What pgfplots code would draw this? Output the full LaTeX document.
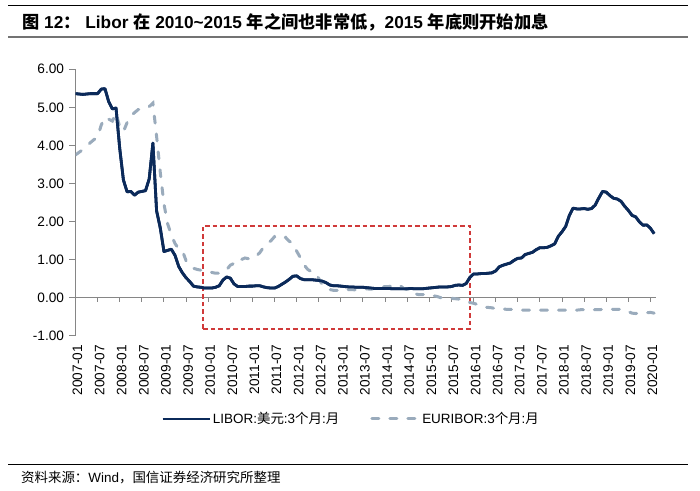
\documentclass[border=0pt]{standalone}
\usepackage{fontspec}
\setmainfont{Liberation Sans}
\newfontfamily\cjk{Noto Sans CJK SC}
\usepackage{pgfplots}
\usepackage{pgfplotstable}
\pgfplotsset{compat=1.18}
\definecolor{libor}{HTML}{0B2A5A}
\definecolor{euribor}{HTML}{9AABBC}
\definecolor{axisgray}{HTML}{868686}
\definecolor{boxred}{HTML}{D03A3A}

\pgfplotstableread{
m lib eur
0 5.36 3.75
1 5.35 3.82
2 5.34 3.89
3 5.35 3.98
4 5.36 4.07
5 5.36 4.15
6 5.36 4.22
7 5.48 4.54
8 5.49 4.74
9 5.15 4.69
10 4.96 4.64
11 4.98 4.85
12 3.92 4.48
13 3.09 4.36
14 2.78 4.60
15 2.79 4.78
16 2.69 4.86
17 2.77 4.94
18 2.79 4.96
19 2.81 4.97
20 3.12 5.02
21 4.06 5.11
22 2.28 4.24
23 1.83 3.29
24 1.21 2.46
25 1.24 1.94
26 1.27 1.64
27 1.11 1.42
28 0.82 1.28
29 0.65 1.23
30 0.52 0.97
31 0.42 0.86
32 0.30 0.77
33 0.28 0.74
34 0.27 0.72
35 0.25 0.71
36 0.25 0.68
37 0.25 0.66
38 0.27 0.64
39 0.31 0.64
40 0.46 0.69
41 0.54 0.73
42 0.51 0.85
43 0.36 0.90
44 0.29 0.88
45 0.29 1.00
46 0.29 1.04
47 0.30 1.02
48 0.30 1.02
49 0.31 1.09
50 0.31 1.18
51 0.28 1.32
52 0.26 1.43
53 0.25 1.49
54 0.25 1.60
55 0.29 1.55
56 0.35 1.54
57 0.41 1.58
58 0.48 1.48
59 0.56 1.43
60 0.57 1.22
61 0.50 1.05
62 0.47 0.86
63 0.47 0.74
64 0.47 0.68
65 0.46 0.66
66 0.45 0.50
67 0.43 0.33
68 0.39 0.25
69 0.33 0.21
70 0.31 0.19
71 0.31 0.19
72 0.30 0.20
73 0.29 0.22
74 0.28 0.21
75 0.28 0.21
76 0.27 0.20
77 0.27 0.21
78 0.27 0.22
79 0.26 0.23
80 0.25 0.22
81 0.24 0.23
82 0.24 0.22
83 0.24 0.27
84 0.24 0.29
85 0.24 0.29
86 0.23 0.31
87 0.23 0.33
88 0.23 0.32
89 0.23 0.24
90 0.23 0.21
91 0.24 0.19
92 0.23 0.10
93 0.23 0.08
94 0.23 0.08
95 0.24 0.08
96 0.25 0.06
97 0.26 0.05
98 0.27 0.03
99 0.28 0.00
100 0.28 -0.01
101 0.28 -0.01
102 0.29 -0.02
103 0.32 -0.03
104 0.33 -0.04
105 0.32 -0.05
106 0.37 -0.09
107 0.53 -0.13
108 0.62 -0.15
109 0.62 -0.18
110 0.63 -0.23
111 0.63 -0.25
112 0.64 -0.26
113 0.65 -0.27
114 0.70 -0.29
115 0.81 -0.30
116 0.85 -0.30
117 0.88 -0.31
118 0.91 -0.31
119 0.98 -0.32
120 1.03 -0.33
121 1.04 -0.33
122 1.13 -0.33
123 1.16 -0.33
124 1.19 -0.33
125 1.26 -0.33
126 1.31 -0.33
127 1.31 -0.33
128 1.32 -0.33
129 1.36 -0.33
130 1.41 -0.33
131 1.61 -0.33
132 1.73 -0.33
133 1.87 -0.33
134 2.16 -0.33
135 2.35 -0.33
136 2.33 -0.33
137 2.33 -0.32
138 2.34 -0.32
139 2.32 -0.32
140 2.34 -0.32
141 2.43 -0.32
142 2.62 -0.32
143 2.79 -0.31
144 2.77 -0.31
145 2.68 -0.31
146 2.61 -0.31
147 2.59 -0.31
148 2.53 -0.31
149 2.40 -0.33
150 2.29 -0.37
151 2.16 -0.41
152 2.12 -0.42
153 1.99 -0.41
154 1.90 -0.40
155 1.91 -0.40
156 1.82 -0.39
157 1.68 -0.41
}\rates

\begin{document}
\begin{tikzpicture}
\useasboundingbox (0,0) rectangle (700bp,491bp);
\fill[white] (0,0) rectangle (700bp,491bp);
% title block
\draw[black, line width=1bp] (8bp,485bp) -- (688bp,485bp);
\draw[black!55, line width=2bp] (8bp,453.7bp) -- (688bp,453.7bp);
\node[anchor=west, inner sep=0pt] at (22bp,468.3bp)
  {\fontsize{17.3}{20}\selectfont\bfseries {\cjk 图} 12{\cjk ：} Libor {\cjk 在} 2010\textasciitilde 2015 {\cjk 年之间也非常低，}2015 {\cjk 年底则开始加息}};
% source block
\draw[black, line width=1bp] (8bp,26bp) -- (688bp,26bp);
\node[anchor=west, inner sep=0pt] at (21bp,13.7bp)
  {\fontsize{13.5}{16}\selectfont {\cjk 资料来源：}Wind{\cjk ，国信证券经济研究所整理}};

\begin{axis}[
  at={(75.5bp,155.4bp)}, anchor=south west,
  scale only axis, width=580.5bp, height=266.3bp,
  xmin=0, xmax=157.5, ymin=-1, ymax=6,
  axis x line*=bottom, axis y line*=left,
  x axis line style={draw=none},
  y axis line style={draw=axisgray, line width=1bp},
  tick align=outside, major tick length=6bp,
  xtick style={draw=none},
  ytick style={draw=axisgray, line width=1bp},
  xtick={0,6,...,156},
  xticklabels={2007-01,2007-07,2008-01,2008-07,2009-01,2009-07,2010-01,2010-07,2011-01,2011-07,2012-01,2012-07,2013-01,2013-07,2014-01,2014-07,2015-01,2015-07,2016-01,2016-07,2017-01,2017-07,2018-01,2018-07,2019-01,2019-07,2020-01},
  xticklabel style={xshift=2bp, rotate=90, anchor=east, font=\fontsize{13.7}{16}\selectfont},
  ytick={-1,0,...,6},
  yticklabel style={font=\fontsize{13.7}{16}\selectfont, /pgf/number format/.cd, fixed, fixed zerofill, precision=2, assume math mode=true},
  yticklabel shift=2bp,
  legend style={at={(0.4746,-0.313)}, anchor=center, draw=none, fill=none,
    font=\fontsize{13.5}{16}\selectfont, legend columns=2,
    /tikz/every even column/.append style={column sep=29bp}},
  legend image code/.code={\draw[#1] (0bp,0bp) -- (47bp,0bp);},
]
\draw[axisgray, line width=1bp] (axis cs:0,0) -- (axis cs:157.5,0);
\pgfplotsinvokeforeach{6,12,...,156}{\draw[axisgray, line width=1bp] (axis cs:#1,0) -- ([yshift=-4.5bp]axis cs:#1,0);}
\draw[boxred, line width=1.6bp, dash pattern=on 4.5bp off 3bp] (axis cs:34.6,-0.82) rectangle (axis cs:107,1.887);
\addplot[libor, line width=2.8bp, line join=round] table[x=m, y=lib] {\rates};
\addlegendentry{LIBOR:{\cjk 美元}:3{\cjk 个月}:{\cjk 月}}
\addplot[euribor, line width=3bp, line cap=round, dash pattern=on 7bp off 11bp] table[x=m, y=eur] {\rates};
\addlegendentry{EURIBOR:3{\cjk 个月}:{\cjk 月}}
\addplot[libor, line width=2.8bp, line join=round, forget plot] table[x=m, y=lib] {\rates};
\end{axis}
\end{tikzpicture}
\end{document}
